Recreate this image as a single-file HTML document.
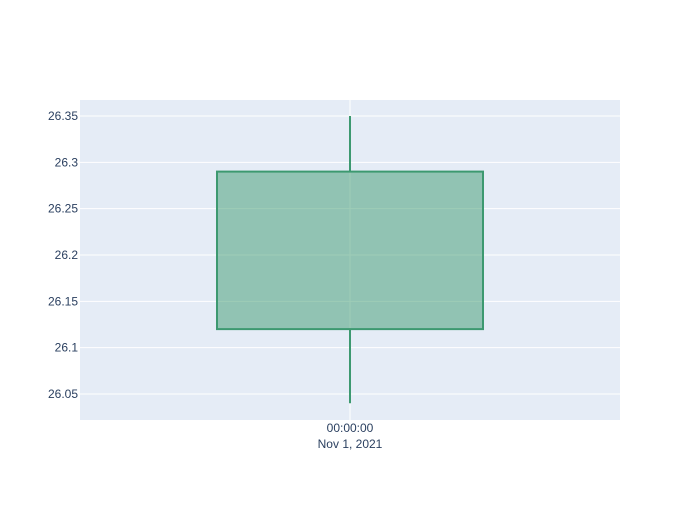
<!DOCTYPE html>
<html><head><meta charset="utf-8"><style>
body{margin:0;background:#fff;}
svg text{font-family:"Liberation Sans",sans-serif;font-size:12px;fill:#2a3f5f;}
</style></head><body>
<svg width="700" height="500">
<rect x="0" y="0" width="700" height="500" fill="#fff"/>
<rect x="80" y="100" width="540" height="320" fill="#e5ecf6"/>
<g id="grid"></g><g id="marks"></g><g id="labels"></g>
</svg>
<script>
const yTicks=[26.05,26.1,26.15,26.2,26.25,26.3,26.35];
const yTickLabels=["26.05","26.1","26.15","26.2","26.25","26.3","26.35"];
const dates=["Nov 1, 2021"];
const opens=[26.12];
const highs=[26.35];
const lows=[26.04];
const closes=[26.29];
const NS="http://www.w3.org/2000/svg";
function y(v){return 116+(26.35-v)/0.05*46.33;}
function x(i){return 350+i*540;}
function mk(tag,attrs,parent){const e=document.createElementNS(NS,tag);for(const k in attrs)e.setAttribute(k,attrs[k]);document.getElementById(parent).appendChild(e);return e;}
yTicks.forEach((t,i)=>{
 const g=mk('line',{x1:80,x2:620,y1:y(t),y2:y(t),stroke:'#fff','stroke-width':1},'grid');
 
 
 const l=mk('text',{x:78,y:y(t)+4,'text-anchor':'end'},'labels');
 l.textContent=yTickLabels[i];
 
 
});
dates.forEach((d,i)=>{
 const g=mk('line',{x1:x(i),x2:x(i),y1:100,y2:420,stroke:'#fff','stroke-width':1},'grid');
 
 
 const t1=mk('text',{x:x(i),y:432,'text-anchor':'middle'},'labels');
 t1.textContent="00:00:00";
 
 
 const t2=mk('text',{x:x(i),y:448,'text-anchor':'middle'},'labels');
 t2.textContent=d;
 
 
 const up=closes[i]>=opens[i];
 const col=up?'#3D9970':'#FF4136';
 const top=Math.max(opens[i],closes[i]),bot=Math.min(opens[i],closes[i]);
 const w1=mk('line',{x1:x(i),x2:x(i),y1:y(highs[i]),y2:y(top),stroke:col,'stroke-width':2},'marks');
 
 
 const w2=mk('line',{x1:x(i),x2:x(i),y1:y(bot),y2:y(lows[i]),stroke:col,'stroke-width':2},'marks');
 
 
 const b=mk('rect',{x:x(i)-133,y:y(top),width:266,height:y(bot)-y(top),fill:col,'fill-opacity':0.5,stroke:col,'stroke-width':2},'marks');
 
 
});
</script>
</body></html>
